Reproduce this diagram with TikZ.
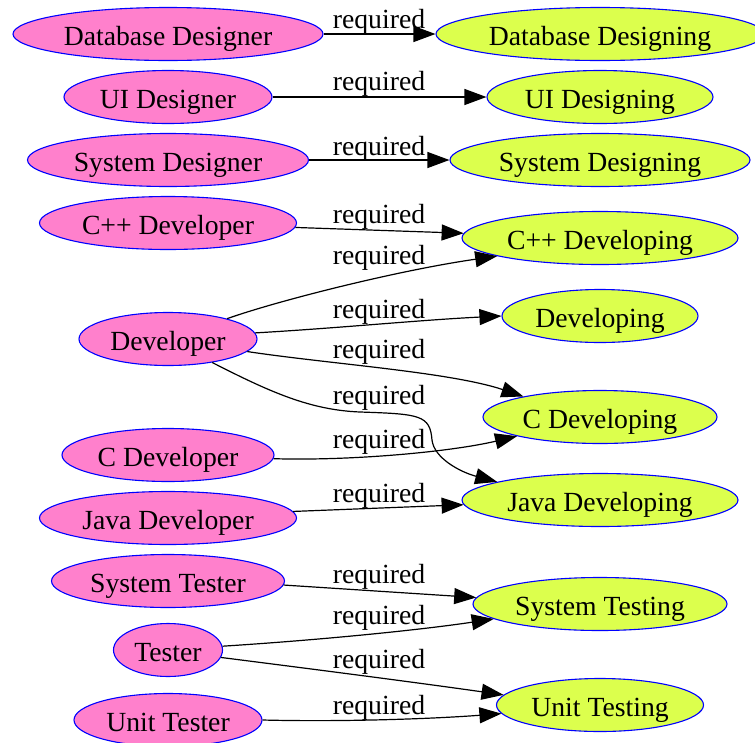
\documentclass[tikz,border=0pt]{standalone}
\usepackage{fontspec}
\setmainfont{Liberation Serif}
\usetikzlibrary{shapes.geometric,arrows.meta}
\definecolor{rolepink}{RGB}{255,128,204}
\definecolor{taskyellow}{RGB}{220,255,77}
\definecolor{edgeblue}{RGB}{0,0,255}
\begin{document}
\begin{tikzpicture}[x=1pt,y=-1pt,
  every node/.style={font=\fontsize{27.7}{33}\selectfont},
  role/.style={ellipse,draw=edgeblue,line width=1.1pt,fill=rolepink,inner sep=0pt,minimum height=53pt,text height=23pt,text depth=0pt},
  task/.style={ellipse,draw=edgeblue,line width=1.1pt,fill=taskyellow,inner sep=0pt,minimum height=53pt,text height=23pt,text depth=0pt},
  lab/.style={inner sep=0pt,yshift=-2pt},
  req/.style={draw=black,line width=1.2pt,-{Triangle[length=22pt,width=16pt]}}]
\useasboundingbox (0,0) rectangle (755,742);
% left nodes
\node[role,minimum width=310pt] (dd) at (168,34) {Database Designer};
\node[role,minimum width=208pt] (uid) at (168,97) {UI Designer};
\node[role,minimum width=281pt] (sd) at (168,160) {System Designer};
\node[role,minimum width=257pt] (cppd) at (168,223) {C++ Developer};
\node[role,minimum width=178pt] (dev) at (168,339) {Developer};
\node[role,minimum width=212pt] (cd) at (168,455) {C Developer};
\node[role,minimum width=257pt] (jd) at (168,518) {Java Developer};
\node[role,minimum width=233pt] (st) at (168,581) {System Tester};
\node[role,minimum width=109pt] (t) at (168,650) {Tester};
\node[role,minimum width=188pt] (ut) at (168,720) {Unit Tester};
% right nodes
\node[task,minimum width=328pt] (ddg) at (600,34) {Database Designing};
\node[task,minimum width=226pt] (uidg) at (600,97) {UI Designing};
\node[task,minimum width=300pt] (sdg) at (600,160) {System Designing};
\node[task,minimum width=276pt] (cppdg) at (600,238) {C++ Developing};
\node[task,minimum width=196pt] (devg) at (600,316) {Developing};
\node[task,minimum width=234pt] (cdg) at (600,417) {C Developing};
\node[task,minimum width=276pt] (jdg) at (600,500) {Java Developing};
\node[task,minimum width=254pt] (stg) at (600,604) {System Testing};
\node[task,minimum width=207pt] (utg) at (600,705) {Unit Testing};
% edges
\draw[req] (dd.east) -- (ddg.west);
\draw[req] (uid.east) -- (uidg.west);
\draw[req] (sd.east) -- (sdg.west);
\draw[req] (cppd.-2) -- (cppdg.178);
\draw[req] (dev.19) .. controls (280,300) and (400,270) .. (cppdg.190);
\draw[req] (dev.4) .. controls (340,328) and (420,320) .. (devg.180);
\draw[req] (dev.-9) .. controls (330,364) and (450,372) .. (cdg.165);
\draw[req] (dev.-28) .. controls (270,392) and (310,410) .. (360,412)
  .. controls (420,414) and (430,415) .. (432,440)
  .. controls (434,458) and (460,472) .. (jdg.170);
\draw[req] (cd.-2) .. controls (350,461) and (450,452) .. (cdg.193);
\draw[req] (jd.3) -- (jdg.182);
\draw[req] (st.-2.5) -- (stg.177);
\draw[req] (t.4) .. controls (320,640) and (420,630) .. (stg.188);
\draw[req] (t.-8) .. controls (320,670) and (420,683) .. (utg.174);
\draw[req] (ut.0) .. controls (340,722) and (430,719) .. (utg.185);
% labels
\node[lab] (l1) at (379,20) {required};
\node[lab] (l2) at (379,82) {required};
\node[lab] (l3) at (379,147) {required};
\node[lab] (l4) at (379,215) {required};
\node[lab] (l5) at (379,256) {required};
\node[lab] (l6) at (379,310) {required};
\node[lab] (l7) at (379,350) {required};
\node[lab] (l8) at (379,396) {required};
\node[lab] (l9) at (379,440) {required};
\node[lab] (l10) at (379,494) {required};
\node[lab] (l11) at (379,575) {required};
\node[lab] (l12) at (379,616) {required};
\node[lab] (l13) at (379,660) {required};
\node[lab] (l14) at (379,706) {required};
\end{tikzpicture}
\end{document}
